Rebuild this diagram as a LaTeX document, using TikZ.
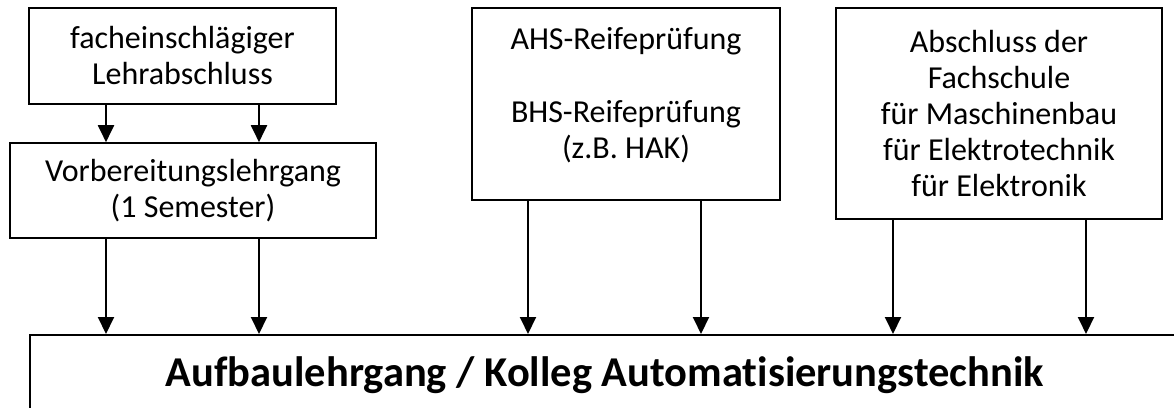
\documentclass[tikz,border=0pt]{standalone}
\usepackage{fontspec}
\setmainfont{Carlito}[Ligatures=NoCommon]
\usetikzlibrary{arrows.meta}

\begin{document}
\begin{tikzpicture}[x=1pt,y=1pt,
        kasten/.style={draw, line width=1.6pt, align=center, inner sep=0pt},
        pfeil/.style={line width=2pt, -{Triangle[width=16pt,length=17pt]}},
        font=\fontsize{32}{36}\selectfont]
        \useasboundingbox (0,0) rectangle (1174,407);

        % Zugangsvoraussetzungen
        \node[kasten, minimum width=307, minimum height=96] (lehr) at (182.5,351) {facheinschlägiger\\Lehrabschluss};
        \node[kasten, minimum width=366, minimum height=95] (vor) at (193,216.5) {Vorbereitungslehrgang\\(1 Semester)};
        \node[kasten, minimum width=308, minimum height=192, text depth=22pt] (ahs) at (626,303) {AHS-Reifeprüfung\\[37pt]BHS-Reifeprüfung\\(z.B. HAK)};
        \node[kasten, minimum width=326, minimum height=211] (fach) at (999,293.5) {Abschluss der\\Fachschule\\für Maschinenbau\\für Elektrotechnik\\für Elektronik};

        % Ziel
        \node[kasten, minimum width=1150, minimum height=80, anchor=north west,
            font=\fontsize{42.5}{50}\selectfont\bfseries] (ziel) at (29,73) {Aufbaulehrgang / Kolleg Automatisierungstechnik};

        % Spalten der Pfeile
        \coordinate (p1) at (106,0);
        \coordinate (p2) at (259,0);
        \coordinate (p3) at (528,0);
        \coordinate (p4) at (701,0);
        \coordinate (p5) at (893,0);
        \coordinate (p6) at (1086,0);

        % Pfeile
        \draw[pfeil] (lehr.south -| p1) -- (vor.north -| p1);
        \draw[pfeil] (lehr.south -| p2) -- (vor.north -| p2);
        \draw[pfeil] (vor.south -| p1) -- (ziel.north -| p1);
        \draw[pfeil] (vor.south -| p2) -- (ziel.north -| p2);
        \draw[pfeil] (ahs.south -| p3) -- (ziel.north -| p3);
        \draw[pfeil] (ahs.south -| p4) -- (ziel.north -| p4);
        \draw[pfeil] (fach.south -| p5) -- (ziel.north -| p5);
        \draw[pfeil] (fach.south -| p6) -- (ziel.north -| p6);
\end{tikzpicture}
\end{document}
